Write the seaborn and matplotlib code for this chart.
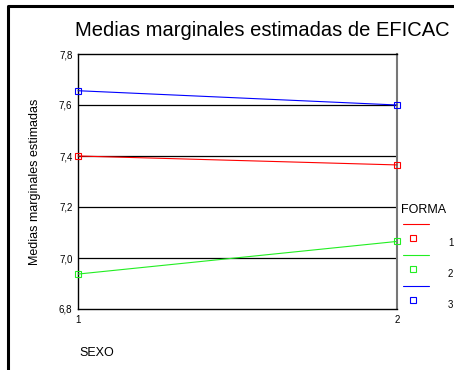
import pandas as pd
import numpy as np
import matplotlib
matplotlib.use('Agg')
import matplotlib.pyplot as plt
import seaborn as sns
from matplotlib.lines import Line2D
from matplotlib.ticker import FuncFormatter

# data
sexo = [1, 2]
forma_levels = ['1', '2', '3']
forma_1 = [7.400, 7.365]
forma_2 = [6.937, 7.065]
forma_3 = [7.656, 7.600]
y_ticks = [6.8, 7.0, 7.2, 7.4, 7.6, 7.8]

colors = {'1': '#ff0000', '2': '#22ee22', '3': '#0000ff'}

df = pd.DataFrame({
    'SEXO': sexo * 3,
    'FORMA': [f for f in forma_levels for _ in sexo],
    'media': forma_1 + forma_2 + forma_3,
})

sns.set_style('white')
plt.rcParams['font.family'] = ['Liberation Sans', 'DejaVu Sans']
plt.rcParams['text.color'] = 'black'
plt.rcParams['axes.labelcolor'] = 'black'
plt.rcParams['xtick.color'] = 'black'
plt.rcParams['ytick.color'] = 'black'

W, H = 454, 370
fig = plt.figure(figsize=(W / 100, H / 100), dpi=100)


def fx(px):
    return px / W


def fy(py):
    return 1 - py / H


ax = fig.add_axes([fx(78), fy(309), fx(397) - fx(78), fy(54) - fy(309)])

sns.lineplot(data=df, x='SEXO', y='media', hue='FORMA', palette=colors,
             style='FORMA', markers={'1': 's', '2': 's', '3': 's'}, dashes=False,
             markersize=4.5, markerfacecolor='none', markeredgewidth=0.8,
             linewidth=0.8, legend=False, ax=ax, zorder=3)
for line in ax.lines:
    line.set_markeredgecolor(line.get_color())
    line.set_markerfacecolor('none')
    line.set_clip_on(False)

ax.set_xlim(1, 2)
ax.set_ylim(6.8, 7.8)
ax.set_xticks(sexo)
ax.set_yticks(y_ticks)
ax.yaxis.set_major_formatter(FuncFormatter(lambda v, p: f'{v:.1f}'.replace('.', ',')))
ax.tick_params(axis='both', labelsize=7, length=2, width=0.8, pad=2, color='black')
for v in y_ticks[1:-1]:
    ax.axhline(v, color='black', lw=0.9, zorder=1)
for side in ['left', 'top', 'bottom']:
    ax.spines[side].set_color('black')
    ax.spines[side].set_linewidth(1.0)
ax.spines['right'].set_color('#777777')
ax.spines['right'].set_linewidth(1.5)
ax.set_xlabel('')
ax.set_ylabel('Medias marginales estimadas', fontsize=9, labelpad=13)

fig.text(fx(262), fy(30), 'Medias marginales estimadas de EFICAC',
         ha='center', va='center', fontsize=14.5)
fig.text(fx(79), fy(353), 'SEXO', ha='left', va='center', fontsize=9)

# legend in the SPSS style: line, marker below, label offset
fig.text(fx(401), fy(210), 'FORMA', ha='left', va='center', fontsize=9)
for i, f in enumerate(forma_levels):
    y0 = 224 + i * 31
    fig.add_artist(Line2D([fx(403), fx(429)], [fy(y0), fy(y0)],
                          color=colors[f], lw=0.8, transform=fig.transFigure))
    fig.add_artist(Line2D([fx(413)], [fy(y0 + 14)], marker='s', markersize=4,
                          mfc='none', mec=colors[f], mew=0.8, transform=fig.transFigure))
    fig.text(fx(448), fy(y0 + 19), f, ha='left', va='center', fontsize=7)

# outer frame (left and top edges are visible)
fig.add_artist(Line2D([fx(8), fx(8), fx(460)], [fy(375), fy(6), fy(6)],
                      color='black', lw=2.2, transform=fig.transFigure))

fig.savefig('out.png', dpi=100)
